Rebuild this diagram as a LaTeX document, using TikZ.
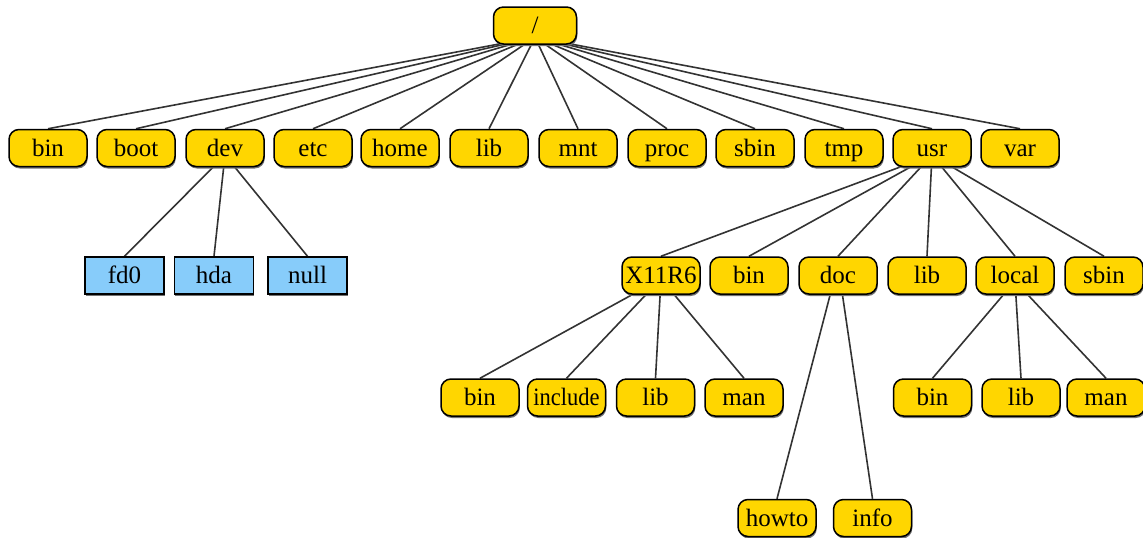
\documentclass[tikz,border=0pt]{standalone}
\usepackage{fontspec}
\setmainfont{Liberation Serif}
\usetikzlibrary{calc,shadows,backgrounds}
\definecolor{dirgold}{RGB}{255,214,0}
\definecolor{devblue}{RGB}{135,204,250}
\newcommand\tedge[3]{\begin{pgfonlayer}{background}\draw[edge] let \p1=(#1.south), \p2=(#2.north) in ({\x1+#3*(\x2-\x1)},{\y1+2pt}) -- (#2.north);\end{pgfonlayer}}
\begin{document}
\begin{tikzpicture}[x=1pt,y=-1pt,
  dirnode/.style={draw=black, line width=1.5pt, fill=dirgold, rounded corners=10pt,
    minimum width=78pt, minimum height=37pt, inner sep=0pt, text height=16pt, text depth=0pt,
    font=\fontsize{25}{29}\selectfont,
    drop shadow={shadow xshift=0.8pt, shadow yshift=-2pt, fill=black!55, opacity=1}},
  devnode/.style={dirnode, rounded corners=0pt, fill=devblue},
  edge/.style={draw=black!80, line width=1.6pt}]
\useasboundingbox (0,0) rectangle (1143,538);
% root
\node[dirnode, minimum width=83pt] (root) at (535,25.5) {/};
% level 1
\node[dirnode] (bin)  at (48,148)   {bin};
\node[dirnode] (boot) at (136,148)  {boot};
\node[dirnode] (dev)  at (225,148)  {dev};
\node[dirnode] (etc)  at (313,148)  {etc};
\node[dirnode] (home) at (400,148)  {home};
\node[dirnode] (lib)  at (489,148)  {lib};
\node[dirnode] (mnt)  at (578,148)  {mnt};
\node[dirnode] (proc) at (667,148)  {proc};
\node[dirnode] (sbin) at (755,148)  {sbin};
\node[dirnode] (tmp)  at (844,148)  {tmp};
\node[dirnode] (usr)  at (932,148)  {usr};
\node[dirnode] (var)  at (1020,148) {var};
% dev children
\node[devnode, minimum width=79pt] (fdz)  at (124.5,275.5) {fd0};
\node[devnode, minimum width=79pt] (hda)  at (214,275.5)   {hda};
\node[devnode, minimum width=79pt] (null) at (307.5,275.5) {null};
% usr children
\node[dirnode] (xr)     at (661,275.5)  {X11R6};
\node[dirnode] (ubin)   at (749,275.5)  {bin};
\node[dirnode] (doc)    at (838,275.5)  {doc};
\node[dirnode] (ulib)   at (927,275.5)  {lib};
\node[dirnode] (local)  at (1015,275.5) {local};
\node[dirnode] (usbin)  at (1104,275.5) {sbin};
% X11R6 children
\node[dirnode] (xbin)   at (480,397.5)   {bin};
\node[dirnode] (xinc)   at (566.5,397.5) {\scalebox{0.9}[1]{include}};
\node[dirnode] (xlib)   at (655.5,397.5) {lib};
\node[dirnode] (xman)   at (744,397.5)   {man};
% local children
\node[dirnode] (lbin)   at (932.5,397.5) {bin};
\node[dirnode] (llib)   at (1021,397.5)  {lib};
\node[dirnode] (lman)   at (1106,397.5)  {man};
% doc children
\node[dirnode] (howto)  at (777,518)   {howto};
\node[dirnode] (info)   at (872.5,518) {info};
% edges
\foreach \c in {bin,boot,dev,etc,home,lib,mnt,proc,sbin,tmp,usr,var} {\tedge{root}{\c}{0.06}}
\foreach \c in {fdz,hda,null} {\tedge{dev}{\c}{0.1}}
\foreach \c in {xr,ubin,doc,ulib,local,usbin} {\tedge{usr}{\c}{0.1}}
\foreach \c in {xbin,xinc,xlib,xman} {\tedge{xr}{\c}{0.14}}
\foreach \c in {lbin,llib,lman} {\tedge{local}{\c}{0.12}}
\foreach \c in {howto,info} {\tedge{doc}{\c}{0.12}}
\end{tikzpicture}
\end{document}
